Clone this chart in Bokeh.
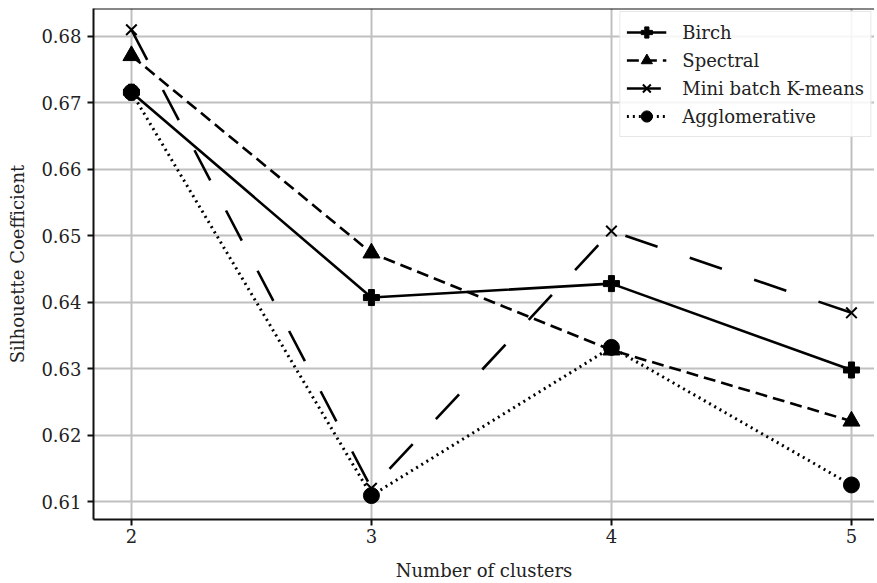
from bokeh.plotting import figure
from bokeh.models import Range1d, Span, Legend, FixedTicker
from bokeh.embed import file_html
from bokeh.resources import INLINE

clusters = [2, 3, 4, 5]
birch = [0.6716, 0.6407, 0.6428, 0.6298]
spectral = [0.6771, 0.6474, 0.6328, 0.6221]
minibatch = [0.6810, 0.6120, 0.6507, 0.6384]
agglomerative = [0.6716, 0.6109, 0.6332, 0.6125]
y_ticks = [0.61, 0.62, 0.63, 0.64, 0.65, 0.66, 0.67, 0.68]

FONT = "DejaVu Serif"

p = figure(width=874, height=583, output_backend="svg", toolbar_location=None,
           x_range=Range1d(1.842, 5.096), y_range=Range1d(0.6073, 0.6842),
           min_border_left=93, min_border_right=0, min_border_top=8, min_border_bottom=64)
p.outline_line_color = None
p.background_fill_color = "white"
p.border_fill_color = "white"

for ax in (p.xaxis[0], p.yaxis[0]):
    ax.axis_line_color = "#111111"
    ax.axis_line_width = 2
    ax.major_tick_line_color = "#111111"
    ax.major_tick_line_width = 2
    ax.major_tick_out = 6
    ax.major_tick_in = 0
    ax.minor_tick_line_color = None
    ax.major_label_text_font = FONT
    ax.major_label_text_font_size = "18px"
    ax.major_label_text_color = "#222222"
    ax.axis_label_text_font = FONT
    ax.axis_label_text_font_size = "18px"
    ax.axis_label_text_font_style = "normal"
    ax.axis_label_text_color = "#222222"

p.xaxis.ticker = FixedTicker(ticks=clusters)
p.yaxis.ticker = FixedTicker(ticks=y_ticks)
p.xaxis.axis_label = "Number of clusters"
p.yaxis.axis_label = "Silhouette Coefficient"
p.xaxis.major_label_standoff = 3
p.yaxis.major_label_standoff = 6
p.yaxis.axis_label_standoff = 10
p.xaxis.axis_label_standoff = 14

p.grid.grid_line_color = "#c0c0c0"
p.grid.grid_line_width = 2
p.xgrid.ticker = FixedTicker(ticks=clusters)
p.ygrid.ticker = FixedTicker(ticks=y_ticks)

p.add_layout(Span(location=0.6842, dimension="width", line_color="#111111", line_width=2))

r1 = p.line(clusters, birch, line_color="black", line_width=2.6)
m1 = p.scatter(clusters, birch, marker="plus", size=16, fill_color="black", line_color="black")
r2 = p.line(clusters, spectral, line_color="black", line_width=2.6, line_dash="12 6")
m2 = p.scatter(clusters, spectral, marker="triangle", size=17, fill_color="black", line_color="black")
r3 = p.line(clusters, minibatch, line_color="black", line_width=2.6, line_dash="34 34")
m3 = p.scatter(clusters, minibatch, marker="x", size=15, line_color="black", line_width=2)
r4 = p.line(clusters, agglomerative, line_color="black", line_width=3, line_dash="2 4")
m4 = p.scatter(clusters, agglomerative, marker="circle", size=16, fill_color="black", line_color="black")

legend = Legend(items=[("Birch", [r1, m1]), ("Spectral", [r2, m2]),
                       ("Mini batch K-means", [r3, m3]), ("Agglomerative", [r4, m4])],
                location="top_right")
legend.label_text_font = FONT
legend.label_text_font_size = "18px"
legend.label_text_color = "#222222"
legend.glyph_width = 40
legend.glyph_height = 28
legend.spacing = 0
legend.padding = 6
legend.margin = 3
legend.label_standoff = 16
legend.border_line_color = "#d0d0d0"
legend.border_line_width = 1.5
legend.background_fill_alpha = 0.85
p.add_layout(legend)

open("out.html", "w").write(file_html(p, INLINE))
